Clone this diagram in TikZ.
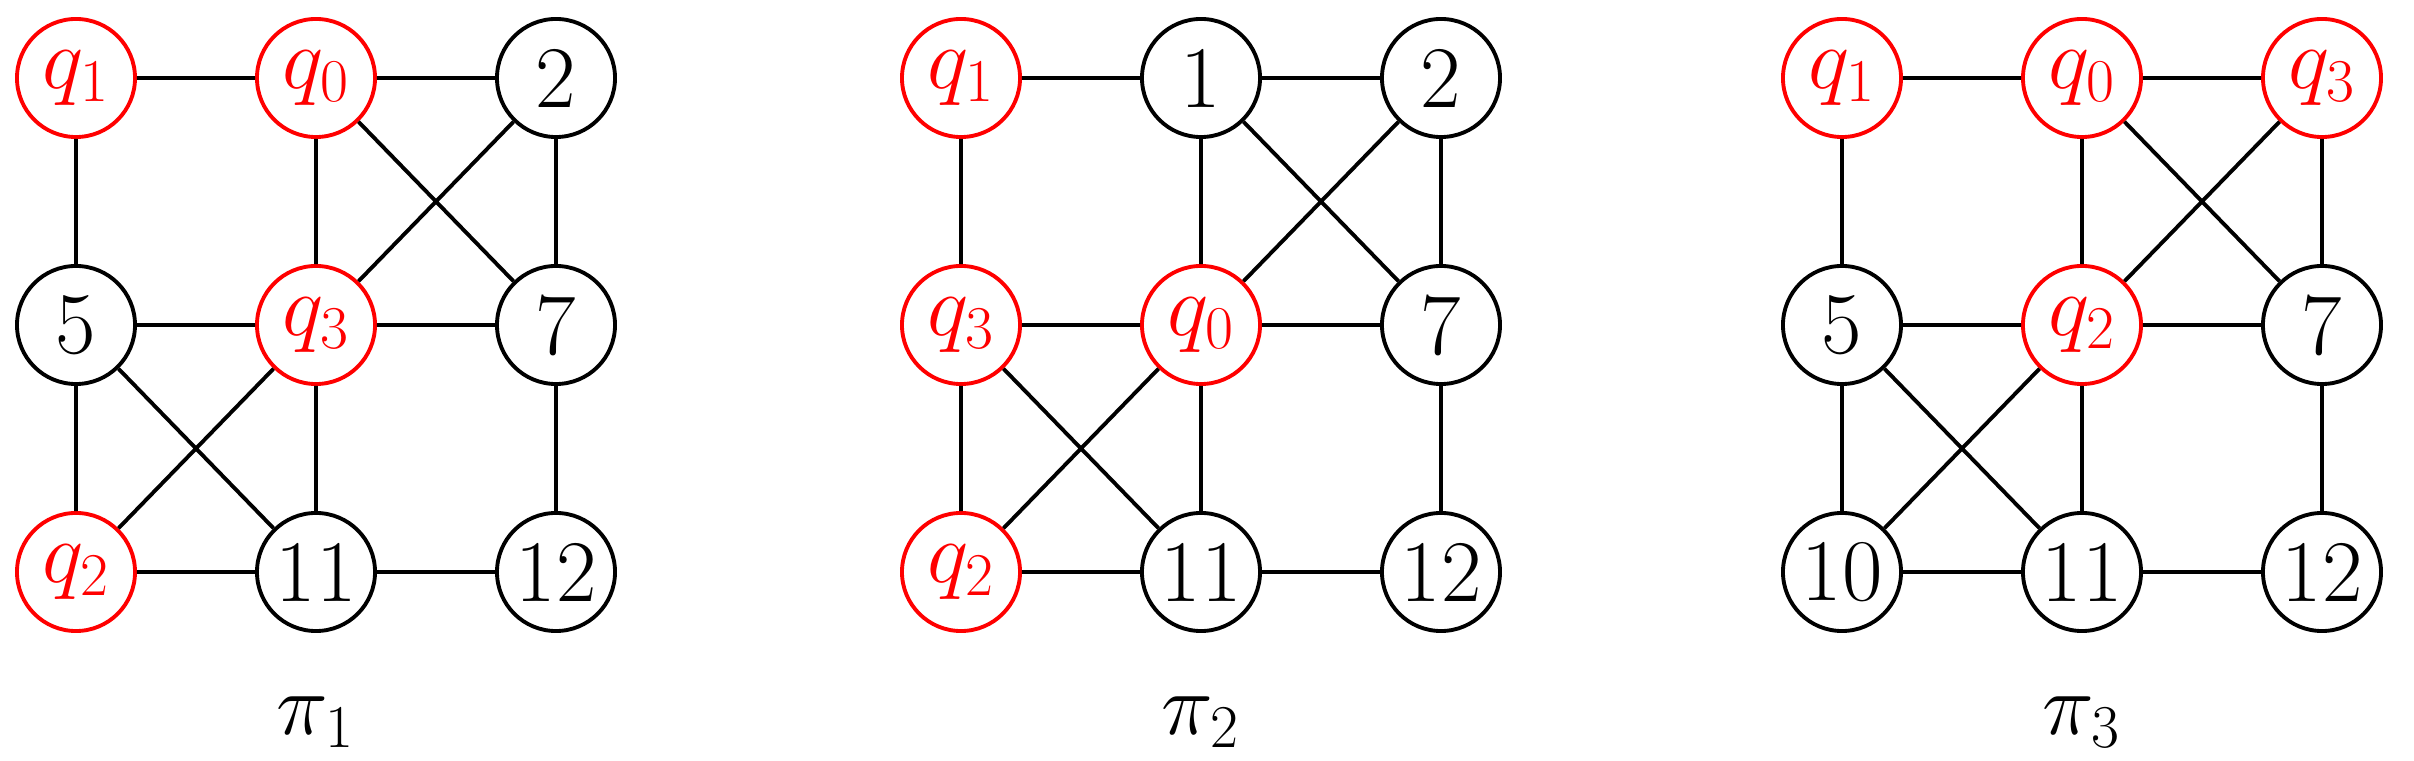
\documentclass[tikz,border=0pt]{standalone}
\begin{document}
\begin{tikzpicture}[x=0.01cm,y=-0.01cm,
  v/.style={circle,draw,line width=1.1pt,minimum size=1.18cm,inner sep=0pt,font=\fontsize{25}{28}\selectfont},
  r/.style={v,red},
  e/.style={line width=1.1pt}]
\useasboundingbox (0,0) rectangle (2414,761);
\foreach \ox/\a/\b/\c/\d/\e/\f/\g/\h/\i/\k [count=\n] in {
  0/{r}/{$q_1$}/{r}/{$q_0$}/{v}/{2}/{v}/{5}/{r}/{$q_3$},
  885/{r}/{$q_1$}/{v}/{1}/{v}/{2}/{r}/{$q_3$}/{r}/{$q_0$},
  1766/{r}/{$q_1$}/{r}/{$q_0$}/{r}/{$q_3$}/{v}/{5}/{r}/{$q_2$}}{
  \begin{scope}[xshift=\ox*0.01cm]
  \node[\a] (a\n) at (76,78) {\b};
  \node[\c] (b\n) at (316,78) {\d};
  \node[\e] (c\n) at (556,78) {\f};
  \node[\g] (d\n) at (76,325) {\h};
  \node[\i] (e\n) at (316,325) {\k};
  \node[v] (f\n) at (556,325) {7};
  \node[v] (h\n) at (316,572) {11};
  \node[v] (i\n) at (556,572) {12};
  \end{scope}
}
\node[r] (g1) at (76,572) {$q_2$};
\node[r] (g2) at (961,572) {$q_2$};
\node[v] (g3) at (1842,572) {10};
\foreach \n in {1,2,3}{
  \draw[e] (a\n)--(b\n) (b\n)--(c\n) (a\n)--(d\n) (b\n)--(e\n) (c\n)--(f\n)
    (d\n)--(e\n) (e\n)--(f\n) (d\n)--(g\n) (e\n)--(h\n) (f\n)--(i\n)
    (g\n)--(h\n) (h\n)--(i\n) (b\n)--(f\n) (c\n)--(e\n) (d\n)--(h\n) (e\n)--(g\n);
}
\node[font=\fontsize{26}{30}\selectfont] (p1) at (316,722) {$\pi_1$};
\node[font=\fontsize{26}{30}\selectfont] (p2) at (1201,722) {$\pi_2$};
\node[font=\fontsize{26}{30}\selectfont] (p3) at (2082,722) {$\pi_3$};
\end{tikzpicture}
\end{document}
